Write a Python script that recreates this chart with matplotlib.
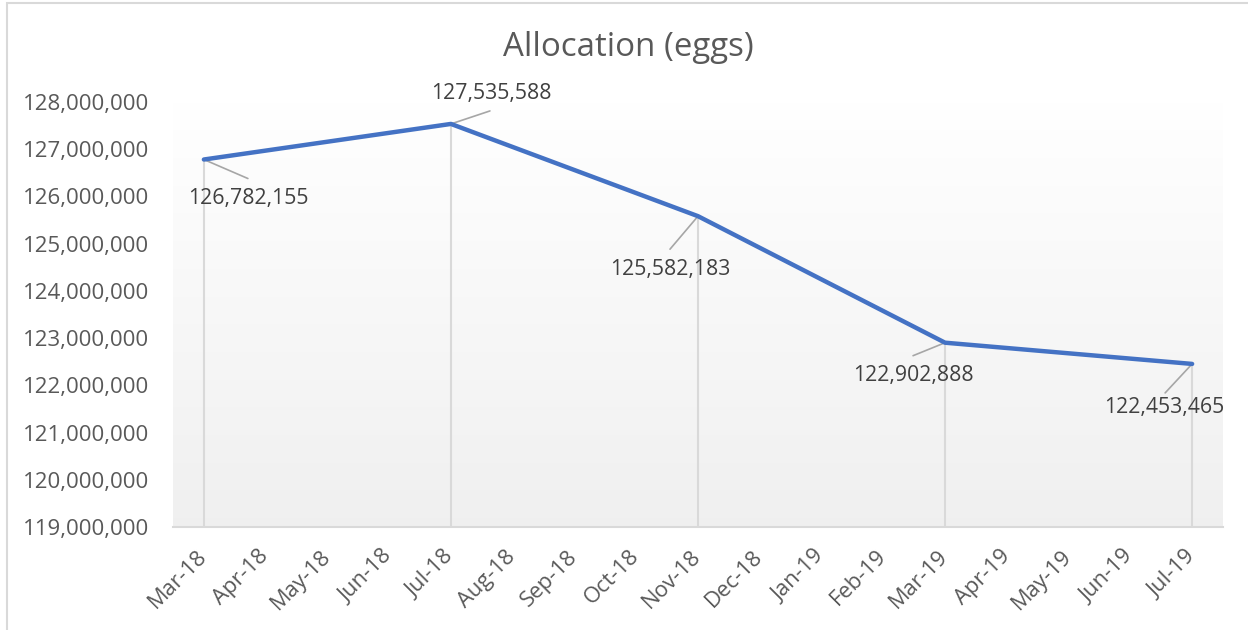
import numpy as np
import pandas as pd
import matplotlib
matplotlib.use("Agg")
from matplotlib import pyplot as plt
from matplotlib.patches import Rectangle
from matplotlib.ticker import FuncFormatter, MultipleLocator

# data
DATES = ["2018-03", "2018-07", "2018-11", "2019-03", "2019-07"]
EGGS = [126782155, 127535588, 125582183, 122902888, 122453465]
MONTH_START = "2018-03"
MONTH_END = "2019-07"
TITLE = "Allocation (eggs)"

# label / leader placement in pixel offsets from each point
LABEL_OFFSETS = [(44, -39), (40, 30), (-28, -53), (-32, -33), (-28, -44)]
LEADER_OFFSETS = [(44, -19), (39, 13), (-28, -33), (-32, -13), (-27, -29)]

TEXT = "#595959"
LINE = "#4472C4"
LIGHT = "#d9d9d9"
LEADER = "#a6a6a6"

plt.rcParams["font.family"] = ["Open Sans", "DejaVu Sans"]

months = pd.period_range(MONTH_START, MONTH_END, freq="M")
xpos = [(pd.Period(d, freq="M") - months[0]).n for d in DATES]

W, H = 1248, 630
fig = plt.figure(figsize=(W / 100, H / 100), dpi=100)
fig.patches.append(Rectangle((7 / W, -0.01), 1.02, 1 - 3 / H + 0.01, transform=fig.transFigure,
                             fill=False, edgecolor=LIGHT, linewidth=1.5))

ax = fig.add_axes([173 / W, 1 - 527 / H, (1223 - 173) / W, (527 - 102) / H])

# vertical gradient in the plot area
grad = np.linspace(1.0, 0.94, 256).reshape(-1, 1)
ax.imshow(np.dstack([grad, grad, grad]), extent=[0, 1, 0, 1], transform=ax.transAxes,
          aspect="auto", zorder=0, interpolation="bilinear")

ax.set_xlim(-0.5, len(months) - 0.5)
ax.set_ylim(119_000_000, 128_000_000)

# drop lines
ax.vlines(xpos, 119_000_000, EGGS, color=LIGHT, linewidth=1.5, zorder=1)
ax.plot(xpos, EGGS, color=LINE, linewidth=3.2, solid_capstyle="round", zorder=3)

for x, v, (tx, ty), (lx, ly) in zip(xpos, EGGS, LABEL_OFFSETS, LEADER_OFFSETS):
    ax.annotate("", xy=(x, v), xytext=(lx, ly), textcoords="offset pixels",
                arrowprops=dict(arrowstyle="-", color=LEADER, linewidth=1.2, shrinkA=0, shrinkB=0),
                zorder=2)
    ax.annotate(f"{v:,}", xy=(x, v), xytext=(tx, ty), textcoords="offset pixels",
                ha="center", va="center", fontsize=15.3, color="#404040", zorder=4)

ax.set_xticks(range(len(months)))
ax.set_xticklabels([m.strftime("%b-%y") for m in months], rotation=45, ha="right",
                   va="center", rotation_mode="anchor")
ax.yaxis.set_major_locator(MultipleLocator(1_000_000))
ax.yaxis.set_major_formatter(FuncFormatter(lambda v, p: f"{v:,.0f}"))
ax.tick_params(axis="x", length=0, pad=19, labelsize=15.8, labelcolor=TEXT)
ax.tick_params(axis="y", length=0, pad=17, labelsize=16, labelcolor=TEXT)

for s in ("top", "right", "left"):
    ax.spines[s].set_visible(False)
ax.spines["bottom"].set_color(LIGHT)
ax.spines["bottom"].set_linewidth(1.5)

fig.text(628 / W, 1 - 48 / H, TITLE, ha="center", va="center", fontsize=23.8, color=TEXT)

fig.savefig("out.png", dpi=100)
